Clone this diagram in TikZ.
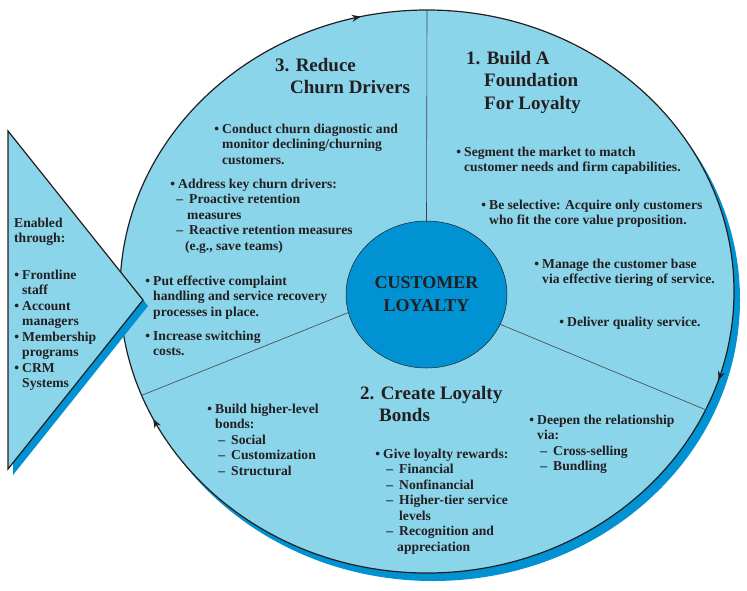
\documentclass[tikz,border=0pt]{standalone}
\usepackage{fontspec}
\setmainfont{Liberation Serif}
\usepackage{xcolor}
\usepackage{tikz}
\usetikzlibrary{arrows.meta,shapes.geometric,shadows,decorations.markings}
\definecolor{cwsky}{HTML}{8BD5EB}
\definecolor{cwdeep}{HTML}{0092D2}
\definecolor{cwink}{HTML}{231F20}
\newcommand\cwbody{\fontsize{13.6}{15.5}\selectfont\bfseries}
\newcommand\cwhead{\fontsize{19}{22.5}\selectfont\bfseries}
\newcommand\cwbul{\llap{\textbullet\hspace{3pt}}}
\newcommand\cwsub[1]{\hspace*{#1}\llap{\textendash\hspace{6pt}}}

\begin{document}
\begin{tikzpicture}[x=1pt,y=-1pt,
  txt/.style={anchor=north west,inner sep=0pt,align=left,text=cwink,font=\cwbody},
  headtxt/.style={txt,font=\cwhead},
  divider/.style={draw=cwink!85,line width=0.6pt},
  flowtips/.style={decoration={markings,
    mark=at position 0.286 with {\arrowreversed{Stealth[length=9pt,width=7pt]}},
    mark=at position 0.572 with {\arrowreversed{Stealth[length=9pt,width=7pt]}},
    mark=at position 0.951 with {\arrowreversed{Stealth[length=9pt,width=7pt]}}}}]
\useasboundingbox (0,0) rectangle (747,590);

\node[ellipse,draw=cwink,line width=1.2pt,fill=cwsky,minimum width=614pt,minimum height=563pt,
      inner sep=0pt,outer sep=0pt,general shadow={fill=cwdeep,shadow xshift=6pt,shadow yshift=-8pt},
      postaction={decorate,flowtips}] (wheel) at (427,291.5) {};
\node[ellipse,draw=cwink,line width=0.5pt,fill=cwdeep,minimum width=161pt,minimum height=147pt,
      inner sep=0pt,outer sep=0pt,align=center,text=cwink,font=\fontsize{18}{23}\selectfont\bfseries]
      (hub) at (426.5,294.5) {CUSTOMER\\LOYALTY};
\draw[divider] (hub.90) -- (wheel.90);
\draw[divider] (hub.193) -- (wheel.200);
\draw[divider] (hub.-22) -- (wheel.-23);

\coordinate (tri-top) at (8,131);
\coordinate (tri-tip) at (143,300);
\coordinate (tri-bot) at (8,469);
\fill[cwdeep] ([shift={(5,6)}]tri-top) -- ([shift={(5,6)}]tri-tip) -- ([shift={(5,6)}]tri-bot) -- cycle;
\draw[cwink,line width=1.2pt,fill=cwsky] (tri-top) -- (tri-tip) -- (tri-bot) -- cycle;

\node[txt] (enabler) at (14,217.5) {Enabled\\through:};
\node[txt] (channels) at (22,269.5) {\cwbul Frontline\\staff\\\cwbul Account\\managers\\\cwbul Membership\\programs\\\cwbul CRM\\Systems};

\node[headtxt] (head3) at (275,58) {3. Reduce\\\hspace*{15pt}Churn Drivers};
\node[txt] (b3a) at (222,123.5) {\cwbul Conduct churn diagnostic and\\monitor declining/churning\\customers.};
\node[txt] (b3b) at (178,178.5) {\cwbul Address key churn drivers:\\\cwsub{11pt}Proactive retention\\\hspace*{9pt}measures\\\cwsub{11pt}Reactive retention measures\\\hspace*{7pt}(e.g., save teams)};
\node[txt] (b3c) at (153,275.5) {\cwbul Put effective complaint\\handling and service recovery\\processes in place.};
\node[txt] (b3d) at (153,330.5) {\cwbul Increase switching\\costs.};

\node[headtxt] (head1) at (466,51) {1. Build A\\\hspace*{18pt}Foundation\\\hspace*{18pt}For Loyalty};
\node[txt] (b1a) at (464,146.5) {\cwbul Segment the market to match\\customer needs and firm capabilities.};
\node[txt] (b1b) at (489,199.5) {\cwbul Be selective: Acquire only customers\\who fit the core value proposition.};
\node[txt] (b1c) at (542,258.5) {\cwbul Manage the customer base\\via effective tiering of service.};
\node[txt] (b1d) at (567,316.5) {\cwbul Deliver quality service.};

\node[headtxt] (head2) at (360,386) {2. Create Loyalty\\\hspace*{19pt}Bonds};
\node[txt] (b2a) at (215,403.5) {\cwbul Build higher-level\\bonds:\\\cwsub{16pt}Social\\\cwsub{16pt}Customization\\\cwsub{16pt}Structural};
\node[txt] (b2b) at (383,448.5) {\cwbul Give loyalty rewards:\\\cwsub{16pt}Financial\\\cwsub{16pt}Nonfinancial\\\cwsub{16pt}Higher-tier service\\\hspace*{16pt}levels\\\cwsub{16pt}Recognition and\\\hspace*{14pt}appreciation};
\node[txt] (b2c) at (537,414.5) {\cwbul Deepen the relationship\\via:\\\cwsub{16pt}Cross-selling\\\cwsub{16pt}Bundling};
\end{tikzpicture}
\end{document}
